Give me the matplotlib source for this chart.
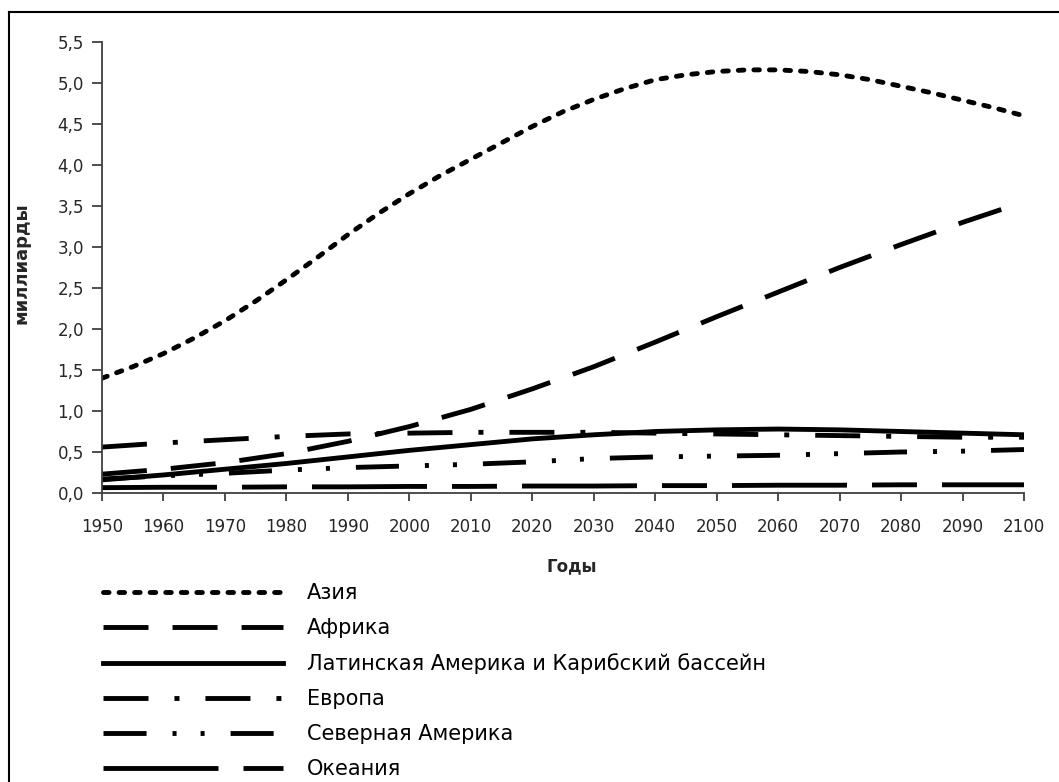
import matplotlib
matplotlib.use("Agg")
import matplotlib.pyplot as plt
from matplotlib.lines import Line2D
from matplotlib.ticker import FuncFormatter, MultipleLocator

plt.rcParams["font.family"] = ["DejaVu Sans"]
plt.rcParams["lines.scale_dashes"] = False

# население, млрд
years5 = list(range(1950, 2101, 5))
years10 = list(range(1950, 2101, 10))

asia = [1.40, 1.54, 1.70, 1.89, 2.10, 2.34, 2.60, 2.87, 3.15, 3.41, 3.65,
        3.87, 4.07, 4.27, 4.47, 4.65, 4.80, 4.93, 5.04, 5.10, 5.14, 5.16,
        5.16, 5.14, 5.10, 5.04, 4.96, 4.88, 4.79, 4.70, 4.60]
africa = [0.23, 0.29, 0.37, 0.48, 0.63, 0.81, 1.02, 1.27, 1.54, 1.84,
          2.15, 2.45, 2.75, 3.03, 3.30, 3.55]
latam = [0.16, 0.22, 0.29, 0.36, 0.44, 0.52, 0.59, 0.66, 0.71, 0.75,
         0.77, 0.78, 0.77, 0.75, 0.73, 0.71]
europe = [0.56, 0.61, 0.65, 0.69, 0.72, 0.73, 0.74, 0.74, 0.74, 0.73,
          0.72, 0.71, 0.70, 0.69, 0.68, 0.68]
n_america = [0.17, 0.21, 0.24, 0.28, 0.31, 0.33, 0.35, 0.38, 0.42, 0.44,
             0.45, 0.46, 0.48, 0.50, 0.51, 0.53]
oceania = [0.065, 0.07, 0.07, 0.075, 0.075, 0.08, 0.08, 0.085, 0.085, 0.09,
           0.09, 0.095, 0.095, 0.10, 0.10, 0.10]

labels = ["Азия", "Африка", "Латинская Америка и Карибский бассейн",
          "Европа", "Северная Америка", "Океания"]

fig = plt.figure(figsize=(10.59, 7.82), dpi=100)
W, H = 1059, 782
ax = fig.add_axes([102 / W, 1 - 493 / H, 922 / W, 451 / H])

lw = 3.5
ax.plot(years5, asia, color="black", lw=lw, linestyle=(0, (4.0, 7.2)),
        dash_capstyle="round", label=labels[0])
ax.plot(years10, africa, color="black", lw=lw, linestyle=(0, (32.4, 17.3)),
        label=labels[1])
ax.plot(years10, latam, color="black", lw=lw, label=labels[2])
ax.plot(years10, europe, color="black", lw=lw,
        linestyle=(0, (32.4, 18.7, 3.6, 18.7)), label=labels[3])
ax.plot(years10, n_america, color="black", lw=lw,
        linestyle=(0, (31, 18.7, 2.9, 17.3, 2.9, 18.7)), label=labels[4])
ax.plot(years10, oceania, color="black", lw=lw,
        linestyle=(0, (82.8, 18, 32.4, 18)), label=labels[5])

ax.set_xlim(1950, 2100)
ax.set_ylim(0, 5.5)
ax.set_xticks(years10)
ax.yaxis.set_major_locator(MultipleLocator(0.5))
ax.yaxis.set_major_formatter(FuncFormatter(lambda v, p: f"{v:.1f}".replace(".", ",")))

for s in ["top", "right"]:
    ax.spines[s].set_visible(False)
for s in ["left", "bottom"]:
    ax.spines[s].set_color("#404040")
    ax.spines[s].set_linewidth(1.3)
ax.tick_params(axis="both", colors="#404040", labelcolor="#262626",
               labelsize=12, width=1.3)
ax.tick_params(axis="y", length=7, pad=6)
ax.tick_params(axis="x", length=6, pad=12)

ax.set_xlabel("Годы", fontsize=12, fontweight="bold", color="#262626")
ax.xaxis.set_label_coords(0.51, -0.142)
ax.set_ylabel("миллиарды", fontsize=13, fontweight="bold", color="#262626")
ax.yaxis.set_label_coords(-0.078, 0.51)

fig.legend(loc="upper left", bbox_to_anchor=(103 / W, 1 - 583 / H),
           frameon=False, fontsize=15, handlelength=8.64,
           handletextpad=1.15, labelspacing=0.72, borderpad=0,
           borderaxespad=0)

# рамка диаграммы (обрезана справа и снизу)
fig.add_artist(Line2D([9 / W, 9 / W], [0, 1 - 12 / H], color="black", lw=1.5))
fig.add_artist(Line2D([9 / W, 1], [1 - 12 / H, 1 - 12 / H], color="black", lw=1.5))

fig.savefig("out.png", dpi=100)
